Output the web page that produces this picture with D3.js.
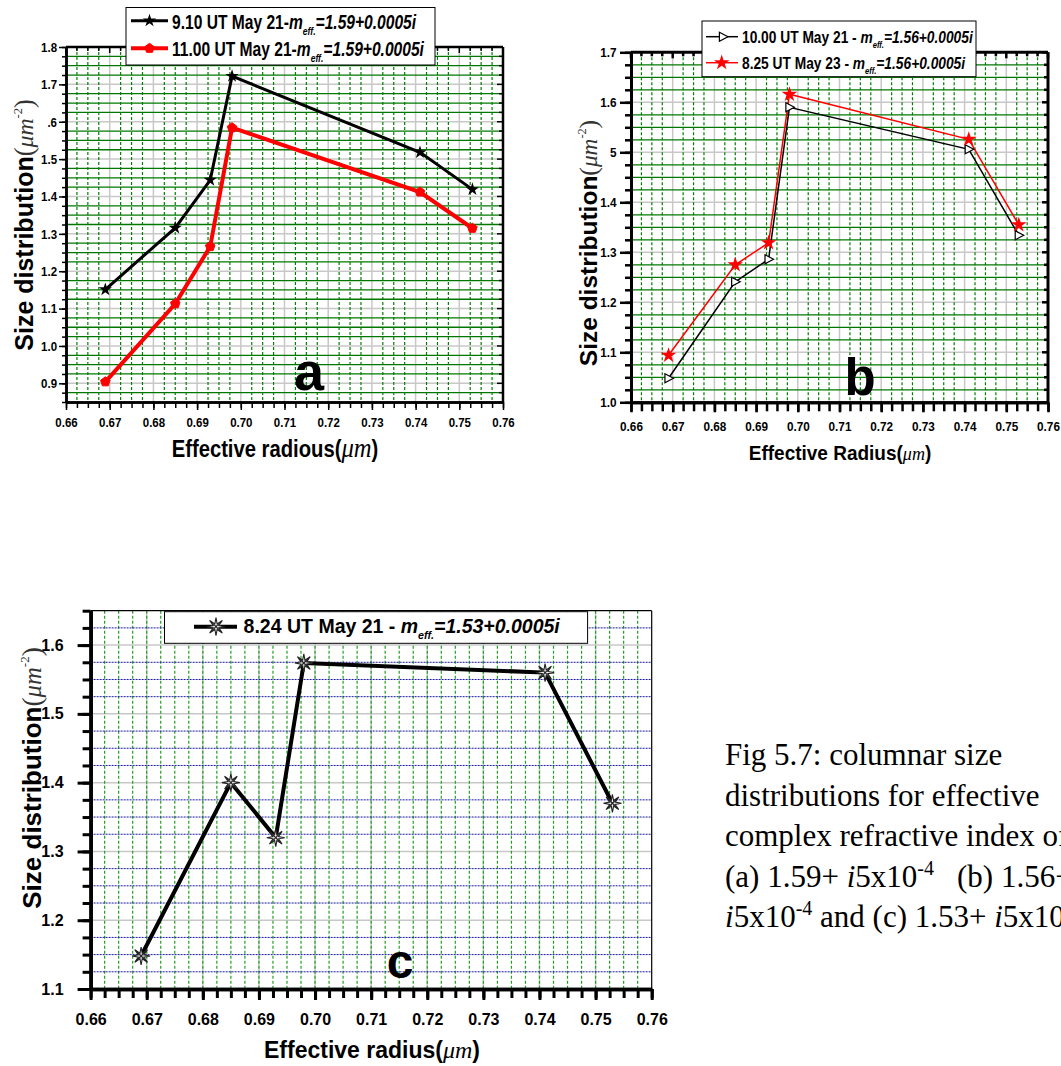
<!DOCTYPE html>
<html><head><meta charset="utf-8">
<script src="https://cdn.jsdelivr.net/npm/d3@7"></script>
<style>body{margin:0;background:#fff} svg{display:block}</style>
</head><body>
<svg id="fig" width="1061" height="1066"></svg>
<script>
// ---------------- data ----------------
const radius = [0.669, 0.685, 0.693, 0.698, 0.741, 0.753];
const aSeries910 = [1.151, 1.316, 1.444, 1.722, 1.518, 1.419];
const aSeries1100 = [0.904, 1.113, 1.266, 1.584, 1.412, 1.315];
const bSeries1000 = [1.048, 1.241, 1.286, 1.590, 1.506, 1.334];
const bSeries825 = [1.094, 1.275, 1.319, 1.616, 1.526, 1.355];
const cSeries824 = [1.148, 1.400, 1.320, 1.574, 1.560, 1.370];

const xTickValues = [0.66, 0.67, 0.68, 0.69, 0.70, 0.71, 0.72, 0.73, 0.74, 0.75, 0.76];
const xTickLabels = ["0.66","0.67","0.68","0.69","0.70","0.71","0.72","0.73","0.74","0.75","0.76"];
const aYTicks = [0.9, 1.0, 1.1, 1.2, 1.3, 1.4, 1.5, 1.6, 1.7, 1.8];
const aYLabels = ["0.9","1.0","1.1","1.2","1.3","1.4","1.5",".6","1.7","1.8"];
const bYTicks = [1.0, 1.1, 1.2, 1.3, 1.4, 1.5, 1.6, 1.7];
const bYLabels = ["1.0","1.1","1.2","1.3","1.4","5","1.6","1.7"];
const cYTicks = [1.1, 1.2, 1.3, 1.4, 1.5, 1.6];
const cYLabels = ["1.1","1.2","1.3","1.4","1.5","1.6"];

const legendA = ["9.10 UT May 21-", "11.00 UT May 21-"];
const legendAValue = ["=1.59+0.0005i", "=1.59+0.0005i"];
const legendB = ["10.00 UT May 21 - ", "8.25 UT May 23 - "];
const legendBValue = ["=1.56+0.0005i", "=1.56+0.0005i"];
const legendC = ["8.24 UT May 21 - "];
const legendCValue = ["=1.53+0.0005i"];

// ---------------- helpers ----------------
const SANS = "'Liberation Sans',Arial,Helvetica,sans-serif";
const SERIF = "'Liberation Serif','Times New Roman',serif";
const svg = d3.select("#fig");

function rich(text, parts) {
  let shift = 0;
  parts.forEach(p => {
    const ts = text.append("tspan").text(p.t);
    const target = p.shift || 0;
    if (target !== shift) { ts.attr("dy", target - shift); shift = target; }
    if (p.fam) ts.attr("font-family", p.fam);
    if (p.size) ts.attr("font-size", p.size);
    if (p.weight) ts.attr("font-weight", p.weight);
    if (p.style) ts.attr("font-style", p.style);
    if (p.fill) ts.attr("fill", p.fill);
  });
}

function pentagonPath(r) {
  const pts = d3.range(5).map(k => {
    const a = -Math.PI / 2 + k * 2 * Math.PI / 5;
    return [r * Math.cos(a), r * Math.sin(a)];
  });
  return "M" + pts.map(p => p.join(",")).join("L") + "Z";
}
function triRightPath(r) {
  return `M${-r*0.8},${-r}L${r*1.1},0L${-r*0.8},${r}Z`;
}
function sparklePath(ro, ri) {
  const pts = d3.range(16).map(k => {
    const a = -Math.PI / 2 + k * Math.PI / 8;
    const rr = k % 2 === 0 ? ro : ri;
    return [rr * Math.cos(a), rr * Math.sin(a)];
  });
  return "M" + pts.map(p => p.map(v => v.toFixed(2)).join(",")).join("L") + "Z";
}

function drawMarker(g, kind, cx, cy) {
  const m = g.append("g").attr("transform", `translate(${cx},${cy})`);
  if (kind === "starBlack") {
    m.append("path").attr("d", d3.symbol(d3.symbolStar, 55)()).attr("fill", "#000");
  } else if (kind === "pentRed") {
    m.append("path").attr("d", pentagonPath(5)).attr("fill", "#ff0000").attr("stroke", "#ff0000").attr("stroke-width", 1);
  } else if (kind === "triHollow") {
    m.append("path").attr("d", triRightPath(4.5)).attr("fill", "#fff").attr("stroke", "#000").attr("stroke-width", 1.2);
  } else if (kind === "starRed") {
    m.append("path").attr("d", d3.symbol(d3.symbolStar, 75)()).attr("fill", "#ff0000");
  } else if (kind === "sparkle") {
    m.append("path").attr("d", sparklePath(9, 3)).attr("fill", "#f2f2f2").attr("stroke", "#222").attr("stroke-width", 1.1);
    m.append("path").attr("d", "M-5,-5L5,5M-5,5L5,-5").attr("stroke", "#222").attr("stroke-width", 1.2);
  }
}

function panel(cfg) {
  const g = svg.append("g");
  const x = d3.scaleLinear().domain([0.66, 0.76]).range([cfg.left, cfg.right]);
  const y = d3.scaleLinear().domain(cfg.yDomain).range([cfg.bottom, cfg.top]);
  const xMinor = d3.range(0, 41).map(i => +(0.66 + i * 0.0025).toFixed(4));
  const nY = Math.round((cfg.yDomain[1] - cfg.yDomain[0]) / 0.025);
  const yMinor = d3.range(0, nY + 1).map(i => +(cfg.yDomain[0] + i * 0.025).toFixed(4));
  const isMajorX = v => Math.abs(v * 100 - Math.round(v * 100)) < 1e-6;
  const isMajorY = v => Math.abs(v * 10 - Math.round(v * 10)) < 1e-6;

  // grid
  const grid = g.append("g");
  grid.selectAll(".vmaj").data(xMinor.filter(v => isMajorX(v) && v > 0.66 && v < 0.76)).join("line")
    .attr("x1", d => x(d)).attr("x2", d => x(d)).attr("y1", cfg.top).attr("y2", cfg.bottom)
    .attr("stroke", "#c8c8c8").attr("stroke-width", 1.5);
  grid.selectAll(".hmaj").data(yMinor.filter(v => isMajorY(v) && v > cfg.yDomain[0] && v < cfg.yDomain[1])).join("line")
    .attr("x1", cfg.left).attr("x2", cfg.right).attr("y1", d => y(d)).attr("y2", d => y(d))
    .attr("stroke", "#c8c8c8").attr("stroke-width", 1.5);
  grid.selectAll(".vmin").data(xMinor.filter(v => (cfg.vGridAll || !isMajorX(v)) && v > 0.66 && v < 0.76)).join("line")
    .attr("x1", d => x(d)).attr("x2", d => x(d)).attr("y1", cfg.top).attr("y2", cfg.bottom)
    .attr("stroke", cfg.vGridColor).attr("stroke-width", 1.2).attr("stroke-dasharray", "3,2");
  grid.selectAll(".hmin").data(yMinor.filter(v => !isMajorY(v) && v > cfg.yDomain[0] && v < cfg.yDomain[1])).join("line")
    .attr("x1", cfg.left).attr("x2", cfg.right).attr("y1", d => y(d)).attr("y2", d => y(d))
    .attr("stroke", cfg.hGridColor).attr("stroke-width", cfg.hGridWidth).attr("stroke-dasharray", cfg.hGridDash);

  // frame (top/right)
  g.append("line").attr("x1", cfg.left).attr("x2", cfg.right).attr("y1", cfg.top).attr("y2", cfg.top)
    .attr("stroke", "#000").attr("stroke-width", cfg.frameWidth);
  g.append("line").attr("x1", cfg.right).attr("x2", cfg.right).attr("y1", cfg.top).attr("y2", cfg.bottom)
    .attr("stroke", "#000").attr("stroke-width", cfg.frameWidth);
  if (cfg.innerTicks) {
    g.selectAll(".rt").data(yMinor).join("line")
      .attr("x1", cfg.right).attr("x2", d => cfg.right - (isMajorY(d) ? 6 : 4)).attr("y1", d => y(d)).attr("y2", d => y(d))
      .attr("stroke", "#000").attr("stroke-width", cfg.tickWidth);
    g.selectAll(".tt").data(xMinor).join("line")
      .attr("y1", cfg.top).attr("y2", d => cfg.top + (isMajorX(d) ? 6 : 4)).attr("x1", d => x(d)).attr("x2", d => x(d))
      .attr("stroke", "#000").attr("stroke-width", cfg.tickWidth);
  }

  // series
  cfg.series.forEach(s => {
    const line = d3.line().x((d, i) => x(radius[i])).y(d => y(d));
    g.append("path").datum(s.values).attr("d", line).attr("fill", "none")
      .attr("stroke", s.color).attr("stroke-width", s.width).attr("stroke-linejoin", "miter");
  });
  cfg.series.forEach(s => {
    s.values.forEach((v, i) => drawMarker(g, s.marker, x(radius[i]), y(v)));
  });

  // axes
  const styleAxis = (ax, w) => {
    ax.selectAll("line").attr("stroke", "#000").attr("stroke-width", w);
    ax.select(".domain").attr("stroke", "#000").attr("stroke-width", cfg.axisWidth);
  };
  const xMinAx = g.append("g").attr("transform", `translate(0,${cfg.bottom})`)
    .call(d3.axisBottom(x).tickValues(xMinor).tickSize(cfg.xMinorLen).tickFormat("").tickSizeOuter(0));
  styleAxis(xMinAx, cfg.tickWidth);
  const yMinAx = g.append("g").attr("transform", `translate(${cfg.left},0)`)
    .call(d3.axisLeft(y).tickValues(yMinor).tickSize(cfg.yMinorLen).tickFormat("").tickSizeOuter(0));
  styleAxis(yMinAx, cfg.tickWidth);
  const xAx = g.append("g").attr("transform", `translate(0,${cfg.bottom})`)
    .call(d3.axisBottom(x).tickValues(xTickValues).tickFormat((d, i) => xTickLabels[i])
      .tickSize(cfg.xMajorLen).tickPadding(cfg.xPad).tickSizeOuter(0));
  styleAxis(xAx, cfg.tickWidth);
  const yAx = g.append("g").attr("transform", `translate(${cfg.left},0)`)
    .call(d3.axisLeft(y).tickValues(cfg.yTicks).tickFormat((d, i) => cfg.yLabels[i])
      .tickSize(cfg.yMajorLen).tickPadding(cfg.yPad).tickSizeOuter(0));
  styleAxis(yAx, cfg.tickWidth);
  [xAx, yAx].forEach(ax => ax.attr("font-family", SANS).attr("font-size", cfg.tickSize)
    .attr("font-weight", "bold").selectAll("text").attr("fill", "#000"));
  const ts = cfg.tickScale;
  if (ts !== 1) {
    xAx.selectAll(".tick text").attr("transform", `scale(${ts},1)`);
    yAx.selectAll(".tick text").each(function () {
      const el = d3.select(this);
      el.attr("x", (+el.attr("x")) / ts).attr("transform", `scale(${ts},1)`);
    });
  }

  // legend
  const lg = g.append("g");
  lg.append("rect").attr("x", cfg.legend.x0).attr("y", cfg.legend.y0)
    .attr("width", cfg.legend.x1 - cfg.legend.x0).attr("height", cfg.legend.y1 - cfg.legend.y0)
    .attr("fill", "#fff").attr("stroke", "#000").attr("stroke-width", 1);
  cfg.series.forEach((s, k) => {
    const r = cfg.legend.rows[k];
    lg.append("line").attr("x1", cfg.legend.lx0).attr("x2", cfg.legend.lx1).attr("y1", r.ly).attr("y2", r.ly)
      .attr("stroke", s.color).attr("stroke-width", s.width);
    drawMarker(lg, s.marker, r.mx, r.ly);
    const tg = lg.append("g").attr("transform", `translate(${cfg.legend.tx},${r.base}) scale(${cfg.legend.sx},1)`);
    const t = tg.append("text").attr("x", 0).attr("y", 0)
      .attr("font-family", SANS).attr("font-size", cfg.legend.size).attr("font-weight", "bold").attr("fill", "#000");
    rich(t, [
      { t: s.label },
      { t: "m", style: "italic" },
      { t: "eff.", style: "italic", size: cfg.legend.size * 0.55, shift: cfg.legend.size * 0.3 },
      { t: s.value, style: "italic", shift: 0 }
    ]);
  });

  // big letter
  g.append("text").attr("x", cfg.letter.x).attr("y", cfg.letter.y).attr("text-anchor", "middle")
    .attr("font-family", SANS).attr("font-weight", "bold").attr("font-size", cfg.letter.size).text(cfg.letter.t);

  // y label
  const yl = g.append("text").attr("transform", `translate(${cfg.ylab.x},${cfg.ylab.y}) rotate(-90)`)
    .attr("text-anchor", "middle").attr("font-family", SANS).attr("font-weight", "bold")
    .attr("font-size", cfg.ylab.size).attr("fill", "#000");
  rich(yl, [
    { t: "Size distribution" },
    { t: "(", fam: SERIF, weight: "normal", size: cfg.ylab.size * 1.05, fill: "#333" },
    { t: "μm", fam: SERIF, style: "italic", weight: "normal", size: cfg.ylab.size * 0.95, fill: "#333" },
    { t: "-2", fam: SERIF, weight: "normal", size: cfg.ylab.size * 0.5, shift: -cfg.ylab.size * 0.45, fill: "#333" },
    { t: ")", fam: SERIF, weight: "normal", size: cfg.ylab.size * 1.05, shift: 0, fill: "#333" }
  ]);

  // x label
  const xg = g.append("g").attr("transform", `translate(${cfg.xlab.x},${cfg.xlab.y}) scale(${cfg.xlab.sx},1)`);
  const xl = xg.append("text").attr("x", 0).attr("y", 0).attr("text-anchor", "middle")
    .attr("font-family", SANS).attr("font-weight", "bold").attr("font-size", cfg.xlab.size).attr("fill", "#000");
  rich(xl, [
    { t: cfg.xlab.t + "(" },
    { t: "μm", fam: SERIF, style: "italic", weight: "normal", size: cfg.xlab.muSize },
    { t: ")" }
  ]);
}

// ---------------- panel a ----------------
panel({
  left: 66, right: 503, top: 47, bottom: 402, yDomain: [0.85, 1.8],
  yTicks: aYTicks, yLabels: aYLabels,
  vGridColor: "#008000", hGridColor: "#007800", hGridWidth: 1.3, hGridDash: null, vGridAll: false,
  frameWidth: 2.5, axisWidth: 2.5, tickWidth: 1.5, innerTicks: true,
  xMinorLen: 6, xMajorLen: 8, yMinorLen: 4, yMajorLen: 7, xPad: 7, yPad: 2,
  tickSize: 13.5, tickScale: 0.85,
  series: [
    { values: aSeries910, color: "#000", width: 3, marker: "starBlack", label: legendA[0], value: legendAValue[0] },
    { values: aSeries1100, color: "#ff0000", width: 4, marker: "pentRed", label: legendA[1], value: legendAValue[1] }
  ],
  legend: { x0: 126, x1: 435, y0: 7.5, y1: 65, lx0: 131, lx1: 168, tx: 172, size: 20, sx: 0.78,
    rows: [{ ly: 20.7, mx: 149.5, base: 28.5 }, { ly: 48.3, mx: 149.5, base: 55.5 }] },
  letter: { t: "a", x: 309, y: 390, size: 54 },
  ylab: { x: 33, y: 225, size: 25 },
  xlab: { x: 275, y: 457, t: "Effective radious", size: 23, muSize: 28, sx: 0.88 }
});

// ---------------- panel b ----------------
panel({
  left: 631, right: 1048, top: 52.3, bottom: 402.3, yDomain: [1.0, 1.7],
  yTicks: bYTicks, yLabels: bYLabels,
  vGridColor: "#008000", hGridColor: "#007800", hGridWidth: 1.3, hGridDash: null, vGridAll: false,
  frameWidth: 3, axisWidth: 3, tickWidth: 2.5, innerTicks: true,
  xMinorLen: 9, xMajorLen: 10, yMinorLen: 6, yMajorLen: 11, xPad: 9, yPad: 3.5,
  tickSize: 13.5, tickScale: 0.87,
  series: [
    { values: bSeries1000, color: "#000", width: 1.5, marker: "triHollow", label: legendB[0], value: legendBValue[0] },
    { values: bSeries825, color: "#ff0000", width: 1.5, marker: "starRed", label: legendB[1], value: legendBValue[1] }
  ],
  legend: { x0: 702, x1: 976, y0: 21, y1: 76.7, lx0: 706, lx1: 738, tx: 742, size: 17, sx: 0.81,
    rows: [{ ly: 36.7, mx: 723, base: 42.7 }, { ly: 62.7, mx: 721.7, base: 69 }] },
  letter: { t: "b", x: 860, y: 395, size: 51 },
  ylab: { x: 597, y: 243, size: 24.5 },
  xlab: { x: 840, y: 460, t: "Effective Radius", size: 20, muSize: 19, sx: 0.95 }
});

// ---------------- panel c ----------------
panel({
  left: 90.6, right: 651.7, top: 610.7, bottom: 989, yDomain: [1.1, 1.65],
  yTicks: cYTicks, yLabels: cYLabels,
  vGridColor: "#22a022", hGridColor: "#1a1a9a", hGridWidth: 1, hGridDash: "2,1", vGridAll: true,
  frameWidth: 1.2, axisWidth: 3.5, tickWidth: 3, innerTicks: false,
  xMinorLen: 9, xMajorLen: 11, yMinorLen: 8, yMajorLen: 13, xPad: 14, yPad: 14,
  tickSize: 16, tickScale: 1,
  series: [
    { values: cSeries824, color: "#000", width: 4, marker: "sparkle", label: legendC[0], value: legendCValue[0] }
  ],
  legend: { x0: 164.5, x1: 587.6, y0: 611.7, y1: 643.3, lx0: 194, lx1: 237, tx: 243.6, size: 19.5, sx: 1,
    rows: [{ ly: 626.7, mx: 216, base: 633 }] },
  letter: { t: "c", x: 400, y: 978, size: 48 },
  ylab: { x: 41, y: 778, size: 26 },
  xlab: { x: 372, y: 1058, t: "Effective radius", size: 23, muSize: 24, sx: 1 }
});

// ---------------- caption ----------------
const capStep = 40.5;
const cap = svg.append("g").attr("font-family", SERIF).attr("font-size", 31).attr("fill", "#000");
const capLines = ["Fig 5.7: columnar size", "distributions for effective", "complex refractive index of"];
capLines.forEach((s, i) => cap.append("text").attr("x", 725).attr("y", 765 + i * capStep).text(s));
const l4 = cap.append("text").attr("x", 725).attr("y", 765 + 3 * capStep);
rich(l4, [{ t: "(a) 1.59+ " }, { t: "i", style: "italic" }, { t: "5x10" },
  { t: "-4", size: 20, shift: -12 }]);
cap.append("text").attr("x", 957).attr("y", 765 + 3 * capStep).text("(b) 1.56+");
const l5 = cap.append("text").attr("x", 725).attr("y", 765 + 4 * capStep);
rich(l5, [{ t: "i", style: "italic" }, { t: "5x10" }, { t: "-4", size: 20, shift: -12 },
  { t: " and (c) 1.53+ ", shift: 0 }, { t: "i", style: "italic" }, { t: "5x10" }, { t: "-4", size: 20, shift: -12 }]);
</script>
</body></html>
